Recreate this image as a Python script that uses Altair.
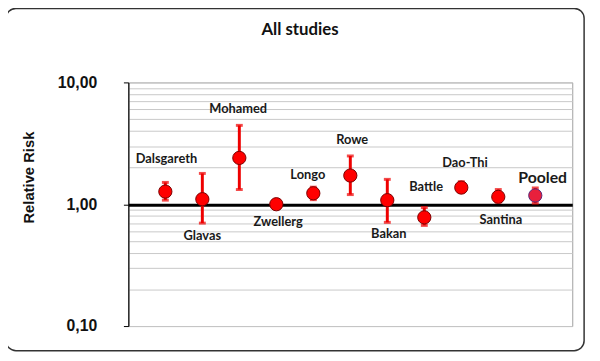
import altair as alt
import pandas as pd

studies = ["Dalsgareth", "Glavas", "Mohamed", "Zwellerg", "Longo", "Rowe",
           "Bakan", "Battle", "Dao-Thi", "Santina", "Pooled"]
rr = [1.27, 1.10, 2.40, 1.00, 1.23, 1.72, 1.08, 0.78, 1.37, 1.15, 1.18]
rr_low = [1.08, 0.70, 1.32, 0.98, 1.09, 1.20, 0.71, 0.67, 1.26, 1.04, 1.02]
rr_high = [1.51, 1.79, 4.44, 1.03, 1.38, 2.49, 1.60, 0.94, 1.53, 1.32, 1.36]
# annotation anchor points (in data units)
label_x = [1.03, 2.0, 2.97, 4.05, 4.85, 6.05, 7.04, 8.05, 9.1, 10.07, 11.2]
label_rr = [2.37, 0.55, 5.99, 0.72, 1.75, 3.34, 0.57, 1.38, 2.16, 0.74, 1.64]
chart_title = "All studies"

y_ticks = [m * 10 ** e for e in (-1, 0) for m in range(1, 10)] + [10]

df = pd.DataFrame({
    "study": studies,
    "idx": list(range(1, len(studies) + 1)),
    "rr": rr,
    "lo": rr_low,
    "hi": rr_high,
    "lx": label_x,
    "ly": label_rr,
})

x_scale = alt.Scale(domain=[0, 12])
y_scale = alt.Scale(type="log", domain=[0.1, 10])

is_decade = "abs(log(datum.value)/LN10 - round(log(datum.value)/LN10)) < 1e-6"

y_axis = alt.Axis(
    values=y_ticks,
    title="Relative Risk",
    titleFont="Liberation Sans", titleFontSize=15, titleFontWeight="bold",
    titleColor="#111", titleAngle=270, titleAlign="center", titleBaseline="middle",
    titleX=-101, titleY=96,
    labelFont="Liberation Sans", labelFontSize=16, labelFontWeight="bold",
    labelColor="#111", labelPadding=27,
    labelExpr=f"({is_decade}) ? replace(format(datum.value, '.2f'), '.', ',') : ''",
    tickSize=5,
    tickColor={"condition": {"test": is_decade, "value": "#000"}, "value": "transparent"},
    domainColor="#000", domainWidth=1.2,
    grid=True,
    gridColor={"condition": {"test": "datum.value == 1", "value": "#000"}, "value": "#c8c8c8"},
    gridWidth={"condition": {"test": "datum.value == 1", "value": 3}, "value": 1},
)

base = alt.Chart(df)

x_enc = alt.X("idx:Q", scale=x_scale, axis=None)

bars = base.mark_rule(color="#ee0000", strokeWidth=3).encode(
    x=x_enc, y=alt.Y("lo:Q", scale=y_scale, axis=y_axis), y2="hi:Q"
)
cap_lo = base.mark_tick(orient="horizontal", color="#ee0000", size=7, thickness=3).encode(
    x=x_enc, y=alt.Y("lo:Q", scale=y_scale)
)
cap_hi = base.mark_tick(orient="horizontal", color="#ee0000", size=7, thickness=3).encode(
    x=x_enc, y=alt.Y("hi:Q", scale=y_scale)
)
points = base.mark_point(filled=True, size=180, opacity=1, strokeWidth=1).encode(
    x=x_enc, y=alt.Y("rr:Q", scale=y_scale),
    fill=alt.condition("datum.study == 'Pooled'", alt.value("#e8203c"), alt.value("#ff0000")),
    stroke=alt.condition("datum.study == 'Pooled'", alt.value("#5a2a7a"), alt.value("#7a0000")),
)
labels = base.transform_filter("datum.study != 'Pooled'").mark_text(
    font="Lato", fontSize=13, fontWeight="bold", color="#1a1a1a", baseline="middle"
).encode(
    x=alt.X("lx:Q", scale=x_scale), y=alt.Y("ly:Q", scale=y_scale), text="study:N"
)
pooled_label = base.transform_filter("datum.study == 'Pooled'").mark_text(
    font="Lato", fontSize=16, fontWeight="bold", color="#1a1a1a", baseline="middle"
).encode(
    x=alt.X("lx:Q", scale=x_scale), y=alt.Y("ly:Q", scale=y_scale), text="study:N"
)

one = alt.Chart(pd.DataFrame({"t": [chart_title]}))

frame = one.mark_rect(
    fill=None, stroke="#333", strokeWidth=1.5, cornerRadius=10
).encode(
    x=alt.value(-124), x2=alt.value(462), y=alt.value(-75), y2=alt.value(272)
)

title = one.mark_text(
    font="Lato", fontSize=17, fontWeight="bold", color="#111",
    align="center", baseline="middle"
).encode(
    x=alt.value(174), y=alt.value(-53), text="t:N"
)

chart = alt.layer(bars, cap_lo, cap_hi, points, labels, pooled_label, frame, title).properties(
    width=450, height=247,
    autosize=alt.AutoSizeParams(type="none"),
    padding={"left": 122, "top": 73, "right": 20, "bottom": 33},
    background="white",
).configure_view(stroke="#a0a0a0", strokeWidth=1)

chart.save("out.html", embed_options={"renderer": "svg", "actions": False})
